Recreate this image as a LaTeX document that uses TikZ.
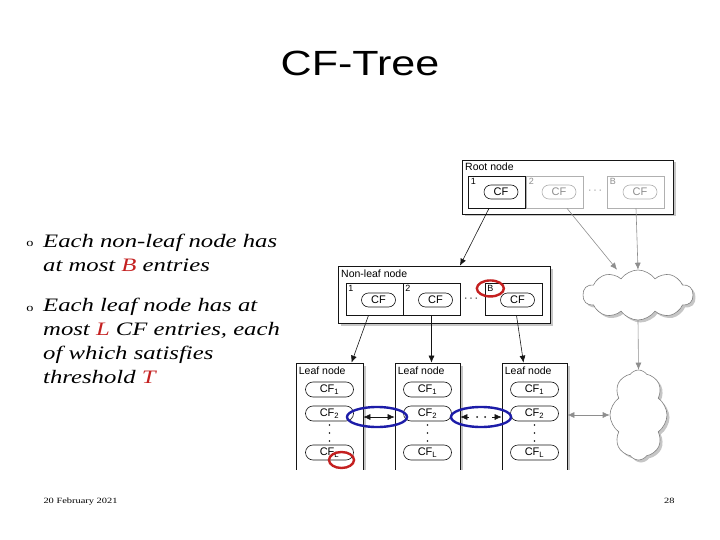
\documentclass[tikz,border=0pt]{standalone}
\usepackage{fontspec}
\setmainfont{Liberation Serif}
\newfontfamily\titlefont[FakeStretch=1.23]{Liberation Sans}
\newfontfamily\bodyfont[FakeStretch=1.3]{Liberation Serif}
\newfontfamily\figsans{Liberation Sans}
\definecolor{cfInk}{HTML}{151515}
\definecolor{cfGray}{HTML}{8E8E8E}
\definecolor{cfRed}{HTML}{C42020}
\definecolor{cfBlue}{HTML}{1C1CA8}
\usetikzlibrary{arrows.meta,positioning,shapes.misc,shapes.symbols,shapes.geometric,shadows}

\begin{document}
\begin{tikzpicture}[x=1pt,y=-1pt,
  font=\figsans\fontsize{10.5}{12}\selectfont,
  treebox/.style={draw=cfInk,fill=white,line width=0.7pt,inner sep=0pt,
                  drop shadow={shadow xshift=2.5pt,shadow yshift=-2.5pt,opacity=0.45}},
  entry/.style={draw=cfInk,line width=0.7pt,minimum width=57pt,minimum height=32pt,inner sep=0pt},
  faded/.style={draw=cfGray!70,text=cfGray},
  pill/.style={draw=cfInk,rounded rectangle,line width=0.6pt,minimum width=34pt,
               minimum height=14pt,inner sep=0pt,font=\figsans\fontsize{11}{12}\selectfont},
  leafpill/.style={pill,minimum width=48pt,minimum height=15pt},
  boxlabel/.style={anchor=base west,inner sep=0pt},
  num/.style={anchor=north west,inner sep=2.5pt,font=\figsans\fontsize{9}{10}\selectfont},
  puff/.style={cloud,draw=cfGray!90!black,fill=white,line width=0.6pt,inner sep=0pt,
               drop shadow={shadow xshift=2.5pt,shadow yshift=-2.5pt,opacity=0.45}},
  ring/.style={ellipse,line width=2.4pt,inner sep=0pt},
  link/.style={-{Latex[length=7pt,width=6pt]},line width=0.6pt,cfInk},
  fadelink/.style={link,cfGray},
  body/.style={anchor=north west,align=left,inner sep=0pt,
               font=\bodyfont\itshape\fontsize{19}{24}\selectfont}
]
\useasboundingbox (0,0) rectangle (720,540);

% title and bullet text
\node[anchor=base,font=\titlefont\fontsize{35}{40}\selectfont] (title) at (360,76) {CF-Tree};
\node[anchor=base,font=\bodyfont\fontsize{11}{12}\selectfont] (b1) at (30,247) {o};
\node[anchor=base,font=\bodyfont\fontsize{11}{12}\selectfont] (b2) at (30,311) {o};
\node[body] (p1) at (43,234) {Each non-leaf node has\\at most {\color{cfRed}B} entries};
\node[body] (p2) at (43,298) {Each leaf node has at\\most {\color{cfRed}L} CF entries, each\\of which satisfies\\threshold {\color{cfRed}T}};

% root node
\node[treebox,minimum width=211pt,minimum height=54pt] (root) at (567.5,187) {};
\node[boxlabel] (rootlbl) at (465,171) {Root node};
\node[entry,faded] (r2) at (555,192) {};
\node[entry,faded] (rB) at (636,192) {};
\node[entry] (r1) at (497,192) {};
\node[num] (r1n) at (r1.north west) {1};
\node[num,text=cfGray] (r2n) at (r2.north west) {2};
\node[num,text=cfGray] (rBn) at (rB.north west) {B};
\node[pill] (r1cf) at ([xshift=4pt]r1.center) {CF};
\node[pill,faded] (r2cf) at ([xshift=4pt]r2.center) {CF};
\node[pill,faded] (rBcf) at ([xshift=4pt]rB.center) {CF};
\node[text=cfGray] (rdots) at (595,192) {·\,·\,·};

% non-leaf node
\node[treebox,minimum width=212pt,minimum height=57pt] (nl) at (444,294.5) {};
\node[boxlabel] (nllbl) at (341,277) {Non-leaf node};
\node[entry] (n1) at (374.5,299) {};
\node[entry] (n2) at (431.5,299) {};
\node[entry] (nB) at (513.5,299) {};
\node[num] (n1n) at (n1.north west) {1};
\node[num] (n2n) at (n2.north west) {2};
\node[num] (nBn) at (nB.north west) {B};
\foreach \e in {n1,n2,nB}
  \node[pill] (\e cf) at ([xshift=4pt,yshift=-1pt]\e.center) {CF};
\node (ndots) at (471,300) {·\,·\,·};

% leaf nodes (cut off at the bottom)
\begin{scope}
\clip (280,150) rectangle (700,469);
\foreach \lf/\cx/\lw in {l1/329.5/67,l2/427.5/65,l3/534.5/65}
  \node[treebox,minimum width=\lw pt,minimum height=120pt] (\lf) at (\cx,423) {};
\end{scope}
\foreach \lf/\cx in {l1/329.5,l2/427.5,l3/534.5}{
  \node[boxlabel] (\lf-lbl) at ([xshift=3pt]\lf.north west |- 0,374) {Leaf node};
  \node[leafpill] (\lf-a) at (\cx,389.5) {CF\textsubscript{1}};
  \node[leafpill] (\lf-b) at (\cx,413.5) {CF\textsubscript{2}};
  \node[leafpill] (\lf-c) at (\cx,452.5) {CF\textsubscript{L}};
  \foreach \dy in {425,433,441}
    \fill[cfInk] (\cx,\dy) circle (0.9);
}

% clouds
\node[puff,cloud puffs=10,cloud puff arc=110,aspect=2.2,minimum width=110pt,minimum height=50pt] (cl1) at (638,295) {};
\node[puff,cloud puffs=8,cloud puff arc=110,aspect=0.6,minimum width=57pt,minimum height=90pt] (cl2) at (638.5,415) {};

% links
\draw[link] ([xshift=-8pt]r1.south) -- ([xshift=16pt]nl.north);
\draw[fadelink] ([xshift=12pt]r2.south) -- ([xshift=-21pt]cl1.north);
\draw[fadelink] (rB.south) -- (cl1.north);
\draw[link] ([xshift=-6pt]n1.south) -- ([xshift=22pt]l1.north);
\draw[link] (n2.south) -- (n2.south |- l2.north);
\draw[link] ([xshift=3pt]nB.south) -- ([xshift=-11pt]l3.north);
\draw[fadelink,{Latex[length=7pt,width=6pt]}-{Latex[length=7pt,width=6pt]}] (l3.east |- cl2) -- (cl2.west);
\draw[fadelink] (cl1.south) -- (cl2.north);

% sibling chain between the leaves
\node[ring,draw=cfBlue,minimum width=60pt,minimum height=20pt] (ringA) at (377,417) {};
\node[ring,draw=cfBlue,minimum width=60pt,minimum height=20pt] (ringB) at (481,417) {};
\draw[link,{Latex[length=7pt,width=6pt]}-{Latex[length=7pt,width=6pt]}] (l1.east |- ringA) -- (l2.west |- ringA);
\draw[link] ([xshift=-12pt]ringB.center) -- (l2.east |- ringB);
\draw[link] ([xshift=11pt]ringB.center) -- (l3.west |- ringB);
\fill[cfInk] ([xshift=-4pt]ringB.center) circle (1) ([xshift=4pt]ringB.center) circle (1);

% highlights
\node[ring,draw=cfRed,minimum width=27pt,minimum height=16pt] (ringN) at (nBn) {};
\node[ring,draw=cfRed,minimum width=25pt,minimum height=16pt] (ringL) at ([xshift=12pt,yshift=-7.5pt]l1-c.center) {};

% footer
\node[anchor=base west,font=\bodyfont\fontsize{8}{10}\selectfont] (date) at (40,503) {20 February 2021};
\node[anchor=base east,font=\bodyfont\fontsize{8}{10}\selectfont] (page) at (678,503) {28};
\end{tikzpicture}
\end{document}
